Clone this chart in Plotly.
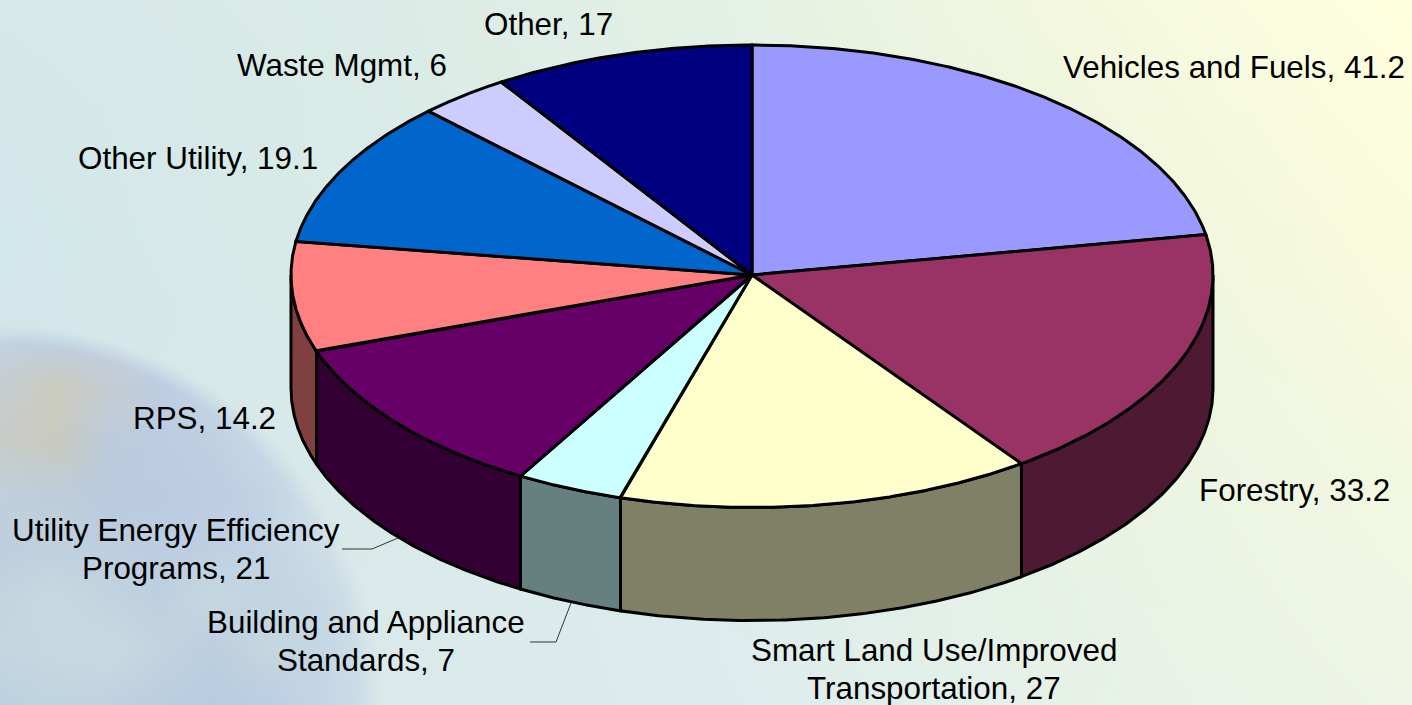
import base64, struct, zlib
import numpy as np
import plotly.graph_objects as go

# ---- data ----
categories = ["Vehicles and Fuels", "Forestry", "Smart Land Use/Improved Transportation",
              "Building and Appliance Standards", "Utility Energy Efficiency Programs",
              "RPS", "Other Utility", "Waste Mgmt", "Other"]
values = [41.2, 33.2, 27, 7, 21, 14.2, 19.1, 6, 17]
top_colors = ["#9999FF", "#993366", "#FFFFCC", "#CCFFFF", "#660066",
              "#FF8080", "#0066CC", "#CCCCFF", "#000080"]
side_colors = ["#4D4D80", "#4D1933", "#808066", "#668080", "#330033",
               "#804040", "#003366", "#666680", "#000040"]
label_lines = [["Vehicles and Fuels, 41.2"], ["Forestry, 33.2"],
               ["Smart Land Use/Improved", "Transportation, 27"],
               ["Building and Appliance", "Standards, 7"],
               ["Utility Energy Efficiency", "Programs, 21"],
               ["RPS, 14.2"], ["Other Utility, 19.1"], ["Waste Mgmt, 6"], ["Other, 17"]]
label_centers = [(1234, 67), (1294, 490), (934, 669), (366, 641), (176, 549),
                 (204, 418), (198, 158), (342, 65), (548, 24)]

# ---- layout constants ----
W, H = 1412, 705
CX, CY, RX, RY_BACK, RY_FRONT, DEPTH = 752, 275, 461, 230, 232.5, 113
LINE_STEP = 38
FONT = "Liberation Sans, Arial, sans-serif"

# ---- background (colour samples, upscaled to a smooth picture) ----
base_grid = ["D6E8E9 DAEBE7 E3F0E5 F3F8DE FFFFDF",
             "D2E7EA D8EBE7 E0EFE6 ECF4DD FAFBDC",
             "D4E6EA D9E9E9 DDEDE8 E8F2E4 F3F8E0",
             "D6E6EA DAE9EA DCEBEE E6F1E8 EEF5E6"]
globe_grid = ["C2D2E4 BDCEE4 BFD0E4 C6D8E6 D0E0E8 D6E6EA D8E8EA D8E8EA",
              "C6CDD2 CCCBBF C6CBD0 BCCDE2 C4D5E4 CEDEE8 D6E6EA D8E8EA",
              "C8CCC8 CAC9BE BCCBDA BCCCE2 BFD0E2 C8D9E6 D4E4EA D8E8EA",
              "C0D0DC BECDD8 BACADE BACAE0 BDCDE2 C2D3E4 D0E0E8 D8E8EA",
              "BDCFDF BFD0DE BCCEE0 BCCCE2 BECFE2 C2D3E4 CCDDE6 D6E6EA",
              "C2D4DE C8D9E0 C2D4DF BED0E0 C6D8E0 C2D4E2 C6D8E4 D2E2EA",
              "C4D6E0 C6D8E0 C8DAE0 C2D4E0 BCCEE0 C4D6DE C4D6E4 CEDFE8",
              "BCD0E0 C0D4E0 C0D2E0 BCCEE0 B8CCE0 BCCEE2 C2D4E6 CEDFE8"]

def grid_array(rows):
    return np.array([[[int(c[i:i + 2], 16) for i in (0, 2, 4)] for c in r.split()] for r in rows], float)

def upsample(grid, xs, ys):
    g = grid
    rows = np.stack([np.stack([np.interp(xs, np.linspace(0, 1, g.shape[1]), g[r, :, c])
                               for c in range(3)], -1) for r in range(g.shape[0])])
    return np.stack([np.stack([np.interp(ys, np.linspace(0, 1, g.shape[0]), rows[:, i, c])
                               for c in range(3)], -1) for i in range(len(xs))], 1)

iw, ih = W // 2, H // 2
xn, yn = np.linspace(0, 1, iw), np.linspace(0, 1, ih)
img = upsample(grid_array(base_grid), xn, yn)
GR = 370
gx = np.clip(xn * W / GR, 0, 1)
gy = np.clip((yn * H - (H - GR)) / GR, 0, 1)
globe = upsample(grid_array(globe_grid), gx, gy)
px, py = np.meshgrid(xn * W, yn * H)
dist = np.hypot(px, py - H)
mask = np.clip((GR + 10 - dist) / 20, 0, 1)[..., None]
img = img * (1 - mask) + globe * mask
img = img.round().astype(np.uint8)

def png_uri(a):
    def chunk(t, d):
        return struct.pack(">I", len(d)) + t + d + struct.pack(">I", zlib.crc32(t + d))
    raw = b"".join(b"\0" + row.tobytes() for row in a)
    data = (b"\x89PNG\r\n\x1a\n" + chunk(b"IHDR", struct.pack(">IIBBBBB", a.shape[1], a.shape[0], 8, 2, 0, 0, 0))
            + chunk(b"IDAT", zlib.compress(raw, 9)) + chunk(b"IEND", b""))
    return "data:image/png;base64," + base64.b64encode(data).decode()

# ---- pie geometry derived from the values ----
total = sum(values)
edges = np.cumsum([0] + values) / total * 2 * np.pi

def ex(t):
    return CX + RX * np.sin(t)

def ey(t, drop=0):
    c = np.cos(t)
    return CY - np.where(c >= 0, RY_BACK, RY_FRONT) * c + drop

fig = go.Figure()
OUT = dict(color="black", width=3)

# side walls: only the front half (pi/2..3pi/2) is visible
for name, a, b, col in zip(categories, edges[:-1], edges[1:], side_colors):
    lo, hi = max(a, np.pi / 2), min(b, 3 * np.pi / 2)
    if lo >= hi:
        continue
    t = np.linspace(lo, hi, 120)
    xs = np.r_[ex(t), ex(t[::-1]), ex(t[0])]
    ys = np.r_[ey(t), ey(t[::-1], DEPTH), ey(t[0])]
    fig.add_trace(go.Scatter(x=xs, y=ys, mode="lines", fill="toself", fillcolor=col, line=OUT,
                             hoverinfo="text", text=name, showlegend=False))

# top faces
for name, v, a, b, col in zip(categories, values, edges[:-1], edges[1:], top_colors):
    t = np.linspace(a, b, 200)
    xs = np.r_[CX, ex(t), CX]
    ys = np.r_[CY, ey(t), CY]
    fig.add_trace(go.Scatter(x=xs, y=ys, mode="lines", fill="toself", fillcolor=col, line=OUT,
                             hoverinfo="text", text=f"{name}, {v:g}", showlegend=False))

# labels
annotations = []
for lines, (lx, ly) in zip(label_lines, label_centers):
    start = ly - (len(lines) - 1) * LINE_STEP / 2
    for i, s in enumerate(lines):
        annotations.append(dict(x=lx, y=start + i * LINE_STEP, text=s, showarrow=False,
                                xref="x", yref="y", xanchor="center", yanchor="middle",
                                font=dict(family=FONT, size=31.4, color="black")))

# leader lines
leaders = [[(342, 549), (372, 549), (398, 538)], [(530, 642), (556, 642), (571, 603)]]
shapes = []
for pts in leaders:
    path = "M " + " L ".join(f"{x},{y}" for x, y in pts)
    shapes.append(dict(type="path", path=path, xref="x", yref="y", line=dict(color="#333333", width=1)))

fig.update_layout(
    width=W, height=H, margin=dict(l=0, r=0, t=0, b=0), showlegend=False,
    paper_bgcolor="#DDEBE8", plot_bgcolor="rgba(0,0,0,0)",
    xaxis=dict(range=[0, W], visible=False, fixedrange=True),
    yaxis=dict(range=[H, 0], visible=False, fixedrange=True),
    images=[dict(source=png_uri(img), xref="x", yref="y", x=0, y=0, sizex=W, sizey=H,
                 sizing="stretch", xanchor="left", yanchor="top", layer="below")],
    annotations=annotations, shapes=shapes,
)
fig.write_html("out.html", config={"displayModeBar": False},
               post_script="document.body.style.margin='0';document.body.style.overflow='hidden';")
